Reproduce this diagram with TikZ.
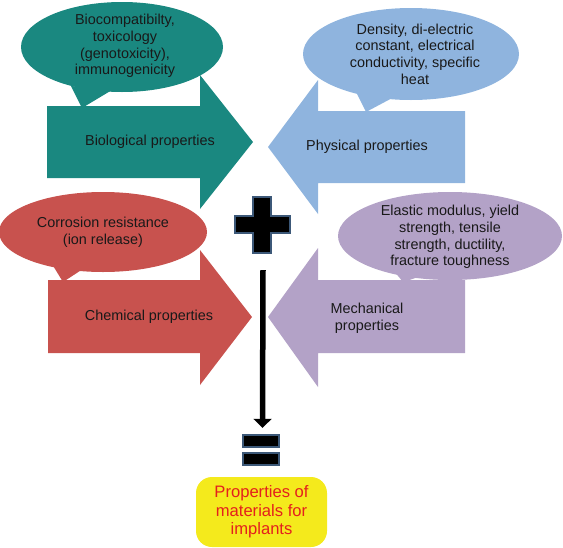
\documentclass[tikz,border=0pt]{standalone}
\usepackage{fontspec}
\setmainfont{Liberation Sans}
\usetikzlibrary{arrows.meta}
\definecolor{bioteal}{RGB}{26,136,128}
\definecolor{physblue}{RGB}{143,180,222}
\definecolor{chemred}{RGB}{200,82,78}
\definecolor{mechlilac}{RGB}{179,162,199}
\definecolor{goalyellow}{RGB}{244,234,28}
\definecolor{goaltext}{RGB}{228,32,28}
\definecolor{signedge}{RGB}{60,88,120}
\tikzset{
  lbl/.style={font=\fontsize{14.4}{16.6}\selectfont,align=center,text=black!90,inner sep=0pt},
  sign/.style={fill=black,draw=signedge,line width=1.3pt},
  goalbox/.style={fill=goalyellow,rounded corners=16pt,minimum width=131pt,minimum height=70pt,
                  inner sep=0pt,font=\fontsize{16.6}{18.6}\selectfont,align=center,text=goaltext},
  down/.style={-{Triangle[width=18pt,length=9pt]},line width=5.5pt,black}
}
\begin{document}
\begin{tikzpicture}[x=1pt,y=-1pt]
  \useasboundingbox (0,0) rectangle (563,547);

  % ---- biological ----
  \fill[bioteal] (47,106) -- (200,106) -- (200,75) -- (253,142) -- (200,209) -- (200,178) -- (47,178) -- cycle;
  \fill[bioteal] (122,47) ellipse[x radius=101,y radius=45];
  \fill[bioteal] (71,86) -- (112,90) -- (82,108) -- cycle;
  \node[lbl] (bionote) at (125,46) {Biocompatibilty,\\toxicology\\(genotoxicity),\\immunogenicity};
  \node[lbl] (bio) at (150,142) {Biological properties};

  % ---- physical ----
  \fill[physblue] (465,111) -- (318,111) -- (318,80) -- (268,147) -- (318,214) -- (318,183) -- (465,183) -- cycle;
  \fill[physblue] (411,54) ellipse[x radius=108,y radius=46];
  \fill[physblue] (357,94) -- (396,96) -- (366,112) -- cycle;
  \node[lbl] (physnote) at (415,54) {Density, di-electric\\constant, electrical\\conductivity, specific\\heat};
  \node[lbl] (phys) at (367,147) {Physical properties};

  % ---- chemical ----
  \fill[chemred] (48,280) -- (200,280) -- (200,250) -- (252,317) -- (200,385) -- (200,353) -- (48,353) -- cycle;
  \fill[chemred] (103,232) ellipse[x radius=104,y radius=40];
  \fill[chemred] (52,264) -- (86,267) -- (63,282) -- cycle;
  \node[lbl] (chemnote) at (103,232) {Corrosion resistance\\(ion release)};
  \node[lbl] (chem) at (149,317) {Chemical properties};

  % ---- mechanical ----
  \fill[mechlilac] (465,280) -- (318,280) -- (318,248) -- (268,317) -- (318,387) -- (318,353) -- (465,353) -- cycle;
  \fill[mechlilac] (450,236) ellipse[x radius=112,y radius=44];
  \fill[mechlilac] (394,271) -- (431,273) -- (403,282) -- cycle;
  \node[lbl] (mechnote) at (450,237) {Elastic modulus, yield\\strength, tensile\\strength, ductility,\\fracture toughness};
  \node[lbl] (mech) at (367,318) {Mechanical\\properties};

  % ---- plus, arrow, equals ----
  \node[inner sep=0pt,minimum width=55pt,minimum height=56pt] (plus) at (262.5,225) {};
  \draw[sign] (253,197) -- (271,197) -- (271,216) -- (290,216) -- (290,233) -- (271,233)
    -- (271,253) -- (253,253) -- (253,233) -- (235,233) -- (235,216) -- (253,216) -- cycle;
  \node[inner sep=0pt,minimum width=36pt,minimum height=30pt] (eq) at (261,450) {};
  \draw[sign] (243,435) rectangle (279,447);
  \draw[sign] (243,453) rectangle (279,465);
  \draw[down] ([xshift=0.5pt,yshift=-17pt]plus.south) -- ([xshift=1.5pt,yshift=7pt]eq.north);

  % ---- result ----
  \node[goalbox] (goal) at (261.5,512) {Properties of\\materials for\\implants};
\end{tikzpicture}
\end{document}
